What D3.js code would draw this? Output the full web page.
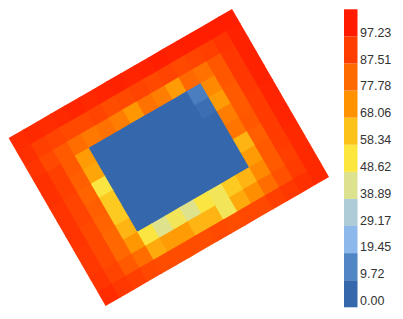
<!DOCTYPE html>
<html>
<head>
<meta charset="utf-8">
<script src="https://cdn.jsdelivr.net/npm/d3@7/dist/d3.min.js"></script>
<style>
  body { margin: 0; background: #fff; }
  svg { display: block; }
  text { font-family: "Liberation Sans", Arial, sans-serif; }
</style>
</head>
<body>
<div id="chart"></div>
<script>
// Heatmap values, row 0 = upper long edge, col 0 = left corner
var row0  = [97, 98, 97, 98, 99, 98, 99, 100, 99, 100, 101, 100, 101, 101, 101, 101];
var row1  = [96, 92, 91, 90, 90, 91, 89, 90, 91, 90, 91, 90, 91, 92, 95, 100];
var row2  = [95, 90, 86, 82, 79, 81, 78, 72, 81, 78, 71, 83, 81, 87, 94, 100];
var row3  = [96, 92, 86, 71, 0, 0, 0, 0, 0, 0, 0, 12, 75, 87, 94, 100];
var row4  = [96, 92, 85, 69, 0, 0, 0, 0, 0, 0, 0, 7, 71, 86, 94, 100];
var row5  = [95, 91, 84, 53, 0, 0, 0, 0, 0, 0, 0, 0, 78, 86, 93, 99];
var row6  = [95, 91, 85, 61, 0, 0, 0, 0, 0, 0, 0, 0, 80, 87, 93, 99];
var row7  = [95, 90, 84, 61, 0, 0, 0, 0, 0, 0, 0, 0, 66, 85, 93, 99];
var row8  = [94, 90, 83, 66, 0, 0, 0, 0, 0, 0, 0, 0, 71, 86, 93, 98];
var row9  = [94, 90, 83, 72, 53, 44, 50, 44, 53, 50, 61, 66, 75, 86, 92, 98];
var row10 = [95, 91, 86, 82, 68, 71, 71, 66, 66, 50, 68, 74, 82, 88, 93, 98];
var row11 = [97, 94, 92, 90, 89, 89, 89, 89, 90, 89, 90, 90, 92, 94, 96, 98];
var grid = [row0, row1, row2, row3, row4, row5, row6, row7, row8, row9, row10, row11];

// Colour bar
var binColors = ["#3567ad", "#5186c4", "#8db8ec", "#aecbd8", "#dde28f", "#fde63d",
                 "#fdc21a", "#ff9200", "#ff6a00", "#ff3d00", "#ff1a00"];
var tickValues = [0.00, 9.72, 19.45, 29.17, 38.89, 48.62, 58.34, 68.06, 77.78, 87.51, 97.23];
var zMax = 106.95;

var width = 403,
    height = 319;

var svg = d3.select("#chart")
            .append("svg")
              .attr("width", width)
              .attr("height", height);

// continuous colour through the bin centres
var binWidth = zMax / binColors.length;
var color = d3.scaleLinear()
              .domain(binColors.map(function(d, i) { return (i + 0.5) * binWidth; }))
              .range(binColors)
              .clamp(true);

// Rotated heatmap
var gw = 258,
    gh = 194;
var nCols = row0.length,
    nRows = grid.length;
var x = d3.scaleBand().domain(d3.range(nCols)).range([0, gw]);
var y = d3.scaleBand().domain(d3.range(nRows)).range([0, gh]);

var cells = [];
grid.forEach(function(row, r) {
  row.forEach(function(v, c) { cells.push({r: r, c: c, v: v}); });
});

var heat = svg.append("g")
              .attr("transform", "translate(8.6,138) rotate(-30)");

// cells overlap their right/lower neighbour a little so no seams show
heat.selectAll("rect")
    .data(cells)
    .enter()
    .append("rect")
      .attr("x", function(d) { return x(d.c); })
      .attr("y", function(d) { return y(d.r); })
      .attr("width", function(d) { return x.bandwidth() + (d.c < nCols - 1 ? 1 : 0); })
      .attr("height", function(d) { return y.bandwidth() + (d.r < nRows - 1 ? 1 : 0); })
      .attr("fill", function(d) { return color(d.v); });

// Colour bar
var cb = d3.scaleLinear().domain([0, zMax]).range([307.3, 9.3]);
var bounds = tickValues.concat([zMax]);

svg.append("g")
  .selectAll("rect")
  .data(binColors)
  .enter()
  .append("rect")
    .attr("x", 344)
    .attr("y", function(d, i) { return cb(bounds[i + 1]); })
    .attr("width", 13.5)
    .attr("height", function(d, i) { return cb(bounds[i]) - cb(bounds[i + 1]); })
    .attr("fill", function(d) { return d; });

var lab = d3.scaleLinear().domain([0, 97.23]).range([300.5, 32.3]);

svg.append("g")
  .selectAll("text")
  .data(tickValues)
  .enter()
  .append("text")
    .attr("x", 360)
    .attr("y", function(d) { return lab(d); })
    .attr("dy", "0.36em")
    .attr("font-size", "12.5px")
    .attr("fill", "#333")
    .text(function(d) { return d.toFixed(2); });
</script>
</body>
</html>
